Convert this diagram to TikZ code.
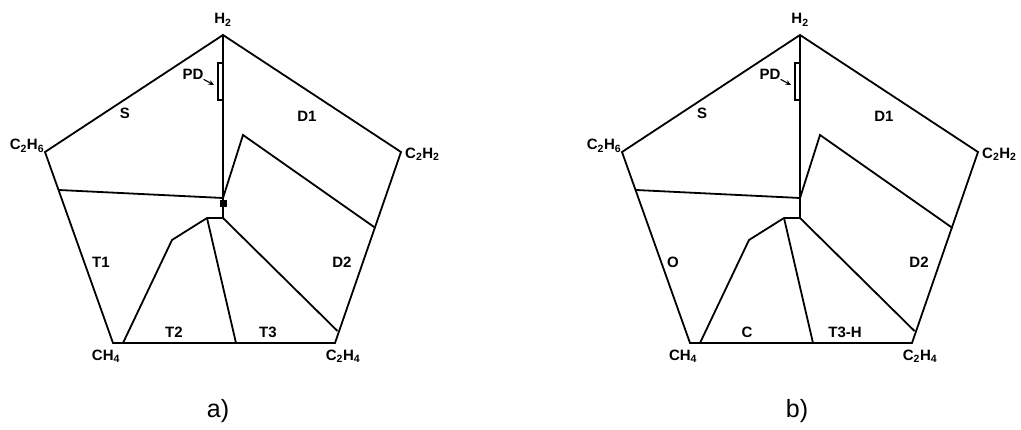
\documentclass[tikz,border=0pt]{standalone}
\usepackage{fontspec}
\setmainfont{Liberation Sans}
\usetikzlibrary{arrows.meta}
\begin{document}
\begin{tikzpicture}[x=1pt,y=-1pt,
  edge/.style={line width=1.8pt, line join=miter},
  lbl/.style={font=\fontsize{15}{17}\selectfont\bfseries, inner sep=0pt},
  panelcaption/.style={font=\fontsize{25}{27}\selectfont, inner sep=0pt},
  pdbox/.style={line width=1.2pt},
  pdarrow/.style={line width=1.1pt, -{Stealth[length=5.5pt,width=5pt]}}]
\useasboundingbox (0,0) rectangle (1021,430);

% the two panels share the same partition of the pentagon
\foreach \p/\dx in {a/0,b/577}{
  \begin{scope}[shift={(\dx,0)}]
    \coordinate (\p-h2)   at (223,35);
    \coordinate (\p-c2h2) at (401,152);
    \coordinate (\p-c2h4) at (335,343);
    \coordinate (\p-ch4)  at (113,343);
    \coordinate (\p-c2h6) at (45,152);
    \coordinate (\p-hub)  at (223,218);
    \coordinate (\p-hubl) at (207,218);
    \coordinate (\p-j)    at (223,198);
    \coordinate (\p-l1)   at (59,190);
    \coordinate (\p-d2a)  at (243,135);
    \coordinate (\p-d2b)  at (375.5,228);
    \coordinate (\p-k)    at (172,240);
    \coordinate (\p-b1)   at (123,343);
    \coordinate (\p-b2)   at (236,343);
    \coordinate (\p-r3)   at (337.5,331);
    \coordinate (\p-pdt)  at (218,63);
    \coordinate (\p-pdb)  at (223,100);
    \coordinate (\p-pdtip) at (214,85);
    \node[lbl] (\p-pd) at (193,74) {PD};
  \end{scope}
  \draw[edge] (\p-h2) -- (\p-c2h2) -- (\p-c2h4) -- (\p-ch4) -- (\p-c2h6) -- cycle;
  \draw[edge] (\p-h2) -- (\p-hub);
  \draw[edge] (\p-l1) -- (\p-j);
  \draw[edge] (\p-j) -- (\p-d2a) -- (\p-d2b);
  \draw[edge] (\p-hub) -- (\p-hubl) -- (\p-k) -- (\p-b1);
  \draw[edge] (\p-hubl) -- (\p-b2);
  \draw[edge] (\p-hub) -- (\p-r3);
  \draw[pdbox] (\p-pdt) rectangle (\p-pdb);
  \draw[pdarrow] (\p-pd.south east) -- (\p-pdtip);
}

% junction marker of panel a
\node[fill, minimum size=7pt, inner sep=0pt] (a-sq) at (223,204) {};

% vertex labels
\foreach \p/\dx in {a/0,b/577}{
  \begin{scope}[shift={(\dx,0)}]
    \node[lbl] (\p-lh2) at (223,20) {H\textsubscript{2}};
    \node[lbl] (\p-lc2h6) at (27,146) {C\textsubscript{2}H\textsubscript{6}};
    \node[lbl, anchor=west] (\p-lc2h2) at (405,154) {C\textsubscript{2}H\textsubscript{2}};
    \node[lbl] (\p-lch4) at (106,356) {CH\textsubscript{4}};
    \node[lbl] (\p-lc2h4) at (343,356) {C\textsubscript{2}H\textsubscript{4}};
    \node[lbl] (\p-ls) at (125,113) {S};
    \node[lbl] (\p-ld1) at (307,116) {D1};
    \node[lbl] (\p-ld2) at (342,262) {D2};
  \end{scope}
}

% zone labels that differ between the panels
\node[lbl] (a-t1) at (101,262) {T1};
\node[lbl] (a-t2) at (174,332) {T2};
\node[lbl] (a-t3) at (268,332) {T3};
\node[lbl] (b-o) at (673,262) {O};
\node[lbl] (b-c) at (747,332) {C};
\node[lbl] (b-t3h) at (845,332) {T3-H};

% panel captions
\node[panelcaption] (capa) at (218,411) {a)};
\node[panelcaption] (capb) at (797,411) {b)};
\end{tikzpicture}
\end{document}
